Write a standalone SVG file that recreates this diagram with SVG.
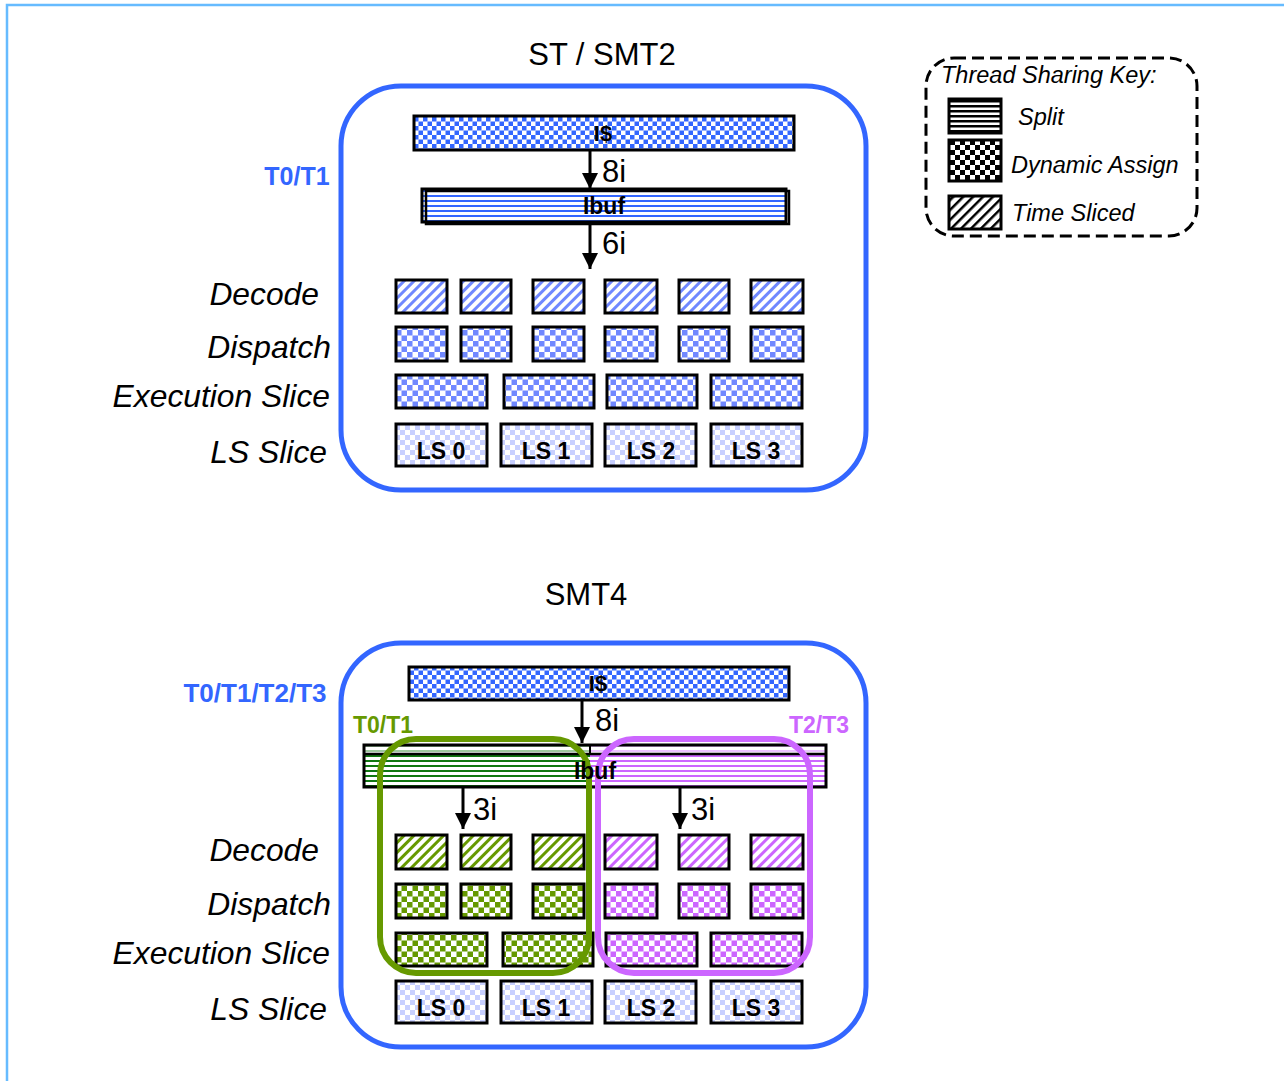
<svg xmlns="http://www.w3.org/2000/svg" width="1284" height="1081" viewBox="0 0 1284 1081">
<style>
.t{font-family:"Liberation Sans",Arial,sans-serif;fill:#000}
.it{font-style:italic;font-size:31.8px}
.ti{font-size:31px}
.b{font-weight:bold}
.box{stroke:#000;stroke-width:3}
.outer{fill:none;stroke:#3366FF;stroke-width:5}
</style>
<defs>
<pattern id="chkBlue" width="9" height="9" patternUnits="userSpaceOnUse"><rect width="9" height="9" fill="#fff"/><rect width="4.5" height="4.5" fill="#3366FF"/><rect x="4.5" y="4.5" width="4.5" height="4.5" fill="#3366FF"/></pattern>
<pattern id="chkPeri" width="11" height="11" patternUnits="userSpaceOnUse"><rect width="11" height="11" fill="#fff"/><rect width="5.5" height="5.5" fill="#7088FF"/><rect x="5.5" y="5.5" width="5.5" height="5.5" fill="#7088FF"/></pattern>
<pattern id="chkPale" width="10" height="10" patternUnits="userSpaceOnUse"><rect width="10" height="10" fill="#fff"/><rect width="5" height="5" fill="#C8D0FF"/><rect x="5" y="5" width="5" height="5" fill="#C8D0FF"/></pattern>
<pattern id="chkGreen" width="11" height="11" patternUnits="userSpaceOnUse"><rect width="11" height="11" fill="#fff"/><rect width="5.5" height="5.5" fill="#669900"/><rect x="5.5" y="5.5" width="5.5" height="5.5" fill="#669900"/></pattern>
<pattern id="chkPurple" width="11" height="11" patternUnits="userSpaceOnUse"><rect width="11" height="11" fill="#fff"/><rect width="5.5" height="5.5" fill="#CC66FF"/><rect x="5.5" y="5.5" width="5.5" height="5.5" fill="#CC66FF"/></pattern>
<pattern id="chkBlack" width="10" height="10" patternUnits="userSpaceOnUse"><rect width="10" height="10" fill="#fff"/><rect width="5" height="5" fill="#000"/><rect x="5" y="5" width="5" height="5" fill="#000"/></pattern>
<pattern id="diagPeri" width="7" height="7" patternUnits="userSpaceOnUse" patternTransform="rotate(45)"><rect width="7" height="7" fill="#fff"/><rect width="3" height="7" fill="#7088FF"/></pattern>
<pattern id="diagGreen" width="7" height="7" patternUnits="userSpaceOnUse" patternTransform="rotate(45)"><rect width="7" height="7" fill="#fff"/><rect width="3" height="7" fill="#669900"/></pattern>
<pattern id="diagPurple" width="7" height="7" patternUnits="userSpaceOnUse" patternTransform="rotate(45)"><rect width="7" height="7" fill="#fff"/><rect width="3" height="7" fill="#CC66FF"/></pattern>
<pattern id="diagBlack" width="7" height="7" patternUnits="userSpaceOnUse" patternTransform="rotate(45)"><rect width="7" height="7" fill="#fff"/><rect width="2.5" height="7" fill="#000"/></pattern>
<pattern id="hBlue" width="5" height="5" patternUnits="userSpaceOnUse"><rect width="5" height="5" fill="#fff"/><rect width="5" height="2" fill="#3366FF"/></pattern>
<pattern id="hGreen" width="5" height="5" patternUnits="userSpaceOnUse"><rect width="5" height="5" fill="#fff"/><rect width="5" height="2" fill="#117711"/></pattern>
<pattern id="hPurple" width="5" height="5" patternUnits="userSpaceOnUse"><rect width="5" height="5" fill="#fff"/><rect width="5" height="2" fill="#CC66FF"/></pattern>
<pattern id="hBlack" width="5" height="5" patternUnits="userSpaceOnUse"><rect width="5" height="5" fill="#fff"/><rect width="5" height="2.5" fill="#000"/></pattern>
<marker id="ah" viewBox="0 0 16 16" refX="16" refY="8" markerWidth="16" markerHeight="16" markerUnits="userSpaceOnUse" orient="auto"><path d="M0,0 L16,8 L0,16 Z" fill="#000"/></marker>
</defs>
<rect width="1284" height="1081" fill="#fff"/>
<path d="M7,1081 V5 H1284" fill="none" stroke="#66BBFF" stroke-width="2.5"/>

<!-- ===== Top panel ===== -->
<text class="t ti" x="602" y="65" text-anchor="middle">ST / SMT2</text>
<g id="top-core"><rect class="outer" x="341" y="86" width="525" height="404" rx="60"/></g>
<text class="t b" x="297" y="185" font-size="25" text-anchor="middle" style="fill:#3366FF">T0/T1</text>
<g id="top-labels">
<text class="t it" x="319" y="305" text-anchor="end">Decode</text>
<text class="t it" x="331" y="358" text-anchor="end">Dispatch</text>
<text class="t it" x="330" y="407" text-anchor="end">Execution Slice</text>
<text class="t it" x="327" y="463" text-anchor="end">LS Slice</text>
</g>
<g id="top-icache"><rect class="box" x="414" y="116" width="380" height="34" fill="url(#chkBlue)"/><text class="t b" x="603" y="141" font-size="22" text-anchor="middle">I$</text></g>
<g id="top-ibuf"><rect class="box" x="422" y="189" width="364" height="33" fill="url(#hBlue)"/><rect x="426" y="191" width="363" height="33" fill="none" stroke="#000" stroke-width="2.5"/><text class="t b" x="604" y="214" font-size="23" text-anchor="middle">Ibuf</text></g>
<g id="top-decode">
<rect class="box" x="396" y="280" width="51" height="33" fill="url(#diagPeri)"/>
<rect class="box" x="461" y="280" width="50" height="33" fill="url(#diagPeri)"/>
<rect class="box" x="533" y="280" width="51" height="33" fill="url(#diagPeri)"/>
<rect class="box" x="605" y="280" width="52" height="33" fill="url(#diagPeri)"/>
<rect class="box" x="679" y="280" width="50" height="33" fill="url(#diagPeri)"/>
<rect class="box" x="751" y="280" width="52" height="33" fill="url(#diagPeri)"/>
</g>
<g id="top-dispatch">
<rect class="box" x="396" y="327" width="51" height="34" fill="url(#chkPeri)"/>
<rect class="box" x="461" y="327" width="50" height="34" fill="url(#chkPeri)"/>
<rect class="box" x="533" y="327" width="51" height="34" fill="url(#chkPeri)"/>
<rect class="box" x="605" y="327" width="52" height="34" fill="url(#chkPeri)"/>
<rect class="box" x="679" y="327" width="50" height="34" fill="url(#chkPeri)"/>
<rect class="box" x="751" y="327" width="52" height="34" fill="url(#chkPeri)"/>
</g>
<g id="top-exec">
<rect class="box" x="396" y="375" width="91" height="33" fill="url(#chkPeri)"/>
<rect class="box" x="504" y="375" width="90" height="33" fill="url(#chkPeri)"/>
<rect class="box" x="607" y="375" width="90" height="33" fill="url(#chkPeri)"/>
<rect class="box" x="711" y="375" width="91" height="33" fill="url(#chkPeri)"/>
</g>
<g id="top-ls">
<rect class="box" x="396" y="424" width="91" height="42" fill="url(#chkPale)"/>
<rect class="box" x="501" y="424" width="91" height="42" fill="url(#chkPale)"/>
<rect class="box" x="605" y="424" width="91" height="42" fill="url(#chkPale)"/>
<rect class="box" x="711" y="424" width="91" height="42" fill="url(#chkPale)"/>
<text class="t b" x="441" y="459" font-size="23" text-anchor="middle">LS 0</text>
<text class="t b" x="546" y="459" font-size="23" text-anchor="middle">LS 1</text>
<text class="t b" x="651" y="459" font-size="23" text-anchor="middle">LS 2</text>
<text class="t b" x="756" y="459" font-size="23" text-anchor="middle">LS 3</text>
</g>

<!-- ===== Legend ===== -->
<g id="legend">
<rect x="926" y="58" width="271" height="178" rx="28" fill="none" stroke="#000" stroke-width="3" stroke-dasharray="12,6"/>
<text class="t" x="941" y="83" font-size="23.5" font-style="italic">Thread Sharing Key:</text>
<rect class="box" x="949" y="99" width="52" height="34" fill="url(#hBlack)"/>
<text class="t" x="1018" y="125" font-size="23.5" font-style="italic">Split</text>
<rect class="box" x="949" y="140" width="52" height="41" fill="url(#chkBlack)"/>
<text class="t" x="1011" y="173" font-size="23.5" font-style="italic">Dynamic Assign</text>
<rect class="box" x="949" y="196" width="52" height="33" fill="url(#diagBlack)"/>
<text class="t" x="1012" y="221" font-size="23.5" font-style="italic">Time Sliced</text>
</g>

<!-- ===== Bottom panel ===== -->
<text class="t ti" x="586" y="605" text-anchor="middle">SMT4</text>
<g id="bot-core"><rect class="outer" x="341" y="643" width="525" height="404" rx="60"/></g>
<text class="t b" x="255" y="702" font-size="26" text-anchor="middle" style="fill:#3366FF">T0/T1/T2/T3</text>
<g id="bot-labels">
<text class="t it" x="319" y="861" text-anchor="end">Decode</text>
<text class="t it" x="331" y="915" text-anchor="end">Dispatch</text>
<text class="t it" x="330" y="964" text-anchor="end">Execution Slice</text>
<text class="t it" x="327" y="1020" text-anchor="end">LS Slice</text>
</g>
<g id="bot-icache"><rect class="box" x="409" y="667" width="380" height="33" fill="url(#chkBlue)"/><text class="t b" x="598" y="691" font-size="22" text-anchor="middle">I$</text></g>
<g id="bot-ibuf">
<rect x="364" y="745" width="226" height="42" fill="url(#hGreen)"/>
<rect x="590" y="745" width="236" height="42" fill="url(#hPurple)"/>
<rect x="364" y="745" width="462" height="9" fill="#fff" opacity="0.6"/>
<rect class="box" x="364" y="745" width="462" height="42" fill="none"/>
<line x1="364" y1="754" x2="826" y2="754" stroke="#000" stroke-width="2.5"/>
<line x1="590" y1="745" x2="590" y2="754" stroke="#000" stroke-width="2"/>
</g>
<g id="bot-decode">
<rect class="box" x="396" y="835" width="51" height="34" fill="url(#diagGreen)"/>
<rect class="box" x="461" y="835" width="50" height="34" fill="url(#diagGreen)"/>
<rect class="box" x="533" y="835" width="51" height="34" fill="url(#diagGreen)"/>
<rect class="box" x="605" y="835" width="52" height="34" fill="url(#diagPurple)"/>
<rect class="box" x="679" y="835" width="50" height="34" fill="url(#diagPurple)"/>
<rect class="box" x="751" y="835" width="52" height="34" fill="url(#diagPurple)"/>
</g>
<g id="bot-dispatch">
<rect class="box" x="396" y="884" width="51" height="34" fill="url(#chkGreen)"/>
<rect class="box" x="461" y="884" width="50" height="34" fill="url(#chkGreen)"/>
<rect class="box" x="533" y="884" width="51" height="34" fill="url(#chkGreen)"/>
<rect class="box" x="605" y="884" width="52" height="34" fill="url(#chkPurple)"/>
<rect class="box" x="679" y="884" width="50" height="34" fill="url(#chkPurple)"/>
<rect class="box" x="751" y="884" width="52" height="34" fill="url(#chkPurple)"/>
</g>
<g id="bot-exec">
<rect class="box" x="396" y="933" width="91" height="33" fill="url(#chkGreen)"/>
<rect class="box" x="503" y="933" width="90" height="33" fill="url(#chkGreen)"/>
<rect class="box" x="606" y="933" width="91" height="33" fill="url(#chkPurple)"/>
<rect class="box" x="711" y="933" width="91" height="33" fill="url(#chkPurple)"/>
</g>
<g id="bot-ls">
<rect class="box" x="396" y="981" width="91" height="42" fill="url(#chkPale)"/>
<rect class="box" x="501" y="981" width="91" height="42" fill="url(#chkPale)"/>
<rect class="box" x="605" y="981" width="91" height="42" fill="url(#chkPale)"/>
<rect class="box" x="711" y="981" width="91" height="42" fill="url(#chkPale)"/>
<text class="t b" x="441" y="1016" font-size="23" text-anchor="middle">LS 0</text>
<text class="t b" x="546" y="1016" font-size="23" text-anchor="middle">LS 1</text>
<text class="t b" x="651" y="1016" font-size="23" text-anchor="middle">LS 2</text>
<text class="t b" x="756" y="1016" font-size="23" text-anchor="middle">LS 3</text>
</g>
<g id="group-t0t1">
<rect x="380" y="739" width="209" height="234" rx="36" fill="none" stroke="#669900" stroke-width="6"/>
<text class="t b" x="383" y="733" font-size="23" text-anchor="middle" style="fill:#669900">T0/T1</text>
</g>
<g id="group-t2t3">
<rect x="598" y="739" width="212" height="234" rx="36" fill="none" stroke="#CC66FF" stroke-width="6"/>
<text class="t b" x="819" y="733" font-size="23" text-anchor="middle" style="fill:#CC66FF">T2/T3</text>
</g>
<text class="t b" x="595" y="779" font-size="23" text-anchor="middle">Ibuf</text>

<!-- ===== Connectors ===== -->
<g id="connectors" stroke="#000" stroke-width="3" fill="none">
<line x1="590" y1="150" x2="590" y2="189" marker-end="url(#ah)"/>
<line x1="590" y1="224" x2="590" y2="269" marker-end="url(#ah)"/>
<line x1="582" y1="700" x2="582" y2="743" marker-end="url(#ah)"/>
<line x1="463" y1="787" x2="463" y2="829" marker-end="url(#ah)"/>
<line x1="680" y1="787" x2="680" y2="829" marker-end="url(#ah)"/>
</g>
<g id="connector-labels">
<text class="t ti" x="602" y="182">8i</text>
<text class="t ti" x="602" y="254">6i</text>
<text class="t ti" x="595" y="731">8i</text>
<text class="t ti" x="473" y="820">3i</text>
<text class="t ti" x="691" y="820">3i</text>
</g>
</svg>
